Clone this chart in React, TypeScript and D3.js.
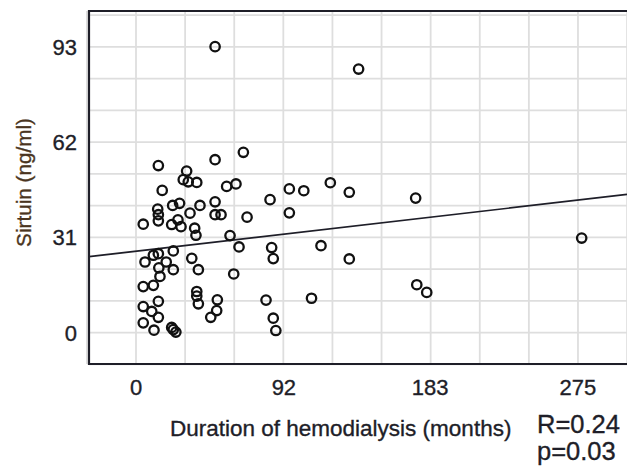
import * as d3 from "d3";

// months on hemodialysis vs sirtuin (ng/ml)
const durationMonths = [
  49.2, 138.5, 13.9, 49.2, 66.8, 31.5, 29.4, 32.5, 37.8, 16.3,
  56.4, 62.2, 13.5, 13.9, 22.8, 27.1, 39.8, 33.6, 49.2, 49.2,
  52.9, 69.1, 4.5, 13.9, 22.2, 26.1, 28.0, 36.5, 37.3, 58.5,
  83.4, 95.4, 104.4, 120.9, 132.7, 95.4, 174.0, 5.6, 10.8, 13.9,
  23.2, 18.8, 14.2, 23.2, 34.7, 38.8, 64.1, 60.8, 14.9, 10.8,
  4.5, 37.8, 37.8, 38.8, 50.6, 50.2, 46.5, 4.5, 13.9, 9.8,
  13.9, 4.5, 11.2, 22.2, 23.2, 24.8, 84.4, 85.4, 115.1, 132.7,
  80.9, 109.2, 85.4, 87.0, 174.7, 180.9, 277.3,
];
const sirtuin = [
  93.1, 85.8, 54.4, 56.3, 58.7, 52.6, 49.8, 49.1, 48.9, 46.3,
  47.6, 48.4, 40.2, 38.4, 41.4, 42.1, 41.4, 38.9, 42.6, 38.4,
  38.4, 37.6, 35.3, 36.4, 35.2, 36.7, 34.5, 34.0, 31.7, 31.6,
  43.3, 46.8, 46.2, 48.8, 45.7, 39.0, 43.8, 23.0, 25.2, 25.7,
  26.6, 23.0, 21.1, 20.5, 24.2, 20.5, 27.9, 19.1, 18.3, 15.4,
  15.0, 13.4, 11.9, 9.4, 10.7, 7.2, 5.0, 8.5, 10.2, 6.9,
  5.0, 3.2, 0.8, 1.7, 1.0, 0.2, 27.7, 24.1, 28.3, 24.0,
  10.6, 11.2, 4.7, 0.7, 15.6, 13.1, 30.8,
];
const xTicks = [0, 92, 183, 275];
const yTicks = [0, 31, 62, 93];
const fit = { intercept: 26.5, slope: 0.0605 };
const stats = ["R=0.24", "p=0.03"];

const W = 627;
const H = 472;
const left = 89, right = 627, top = 11, bottom = 364;
const ink = "#1e1e28";
const font = "'Liberation Sans', Arial, sans-serif";

export default function App() {
  const x = d3.scaleLinear().domain([-29.25, 305.5]).range([left, right]);
  const y = d3.scaleLinear().domain([-10.2, 104.7]).range([bottom, top]);

  // grid every third of a tick step
  const xGrid = d3.range(-1, 11).map((i) => (i * 275) / 9);
  const yGrid = d3.range(-1, 11).map((i) => (i * 31) / 3);

  const [x0, x1] = x.domain();
  const fitLine = d3.line()([
    [x(x0), y(fit.intercept + fit.slope * x0)],
    [x(x1), y(fit.intercept + fit.slope * x1)],
  ]);

  return (
    <svg width={W} height={H} style={{ position: "absolute", left: 0, top: 0, background: "#fff" }}>
      <g stroke="#dedede" strokeWidth={1.8}>
        {xGrid.map((v, i) => (
          <line key={"gx" + i} x1={x(v)} x2={x(v)} y1={top} y2={bottom} />
        ))}
        {yGrid.map((v, i) => (
          <line key={"gy" + i} x1={left} x2={right} y1={y(v)} y2={y(v)} />
        ))}
      </g>

      <path d={fitLine ?? ""} stroke={ink} strokeWidth={1.7} fill="none" />

      <g fill="none" stroke="#111" strokeWidth={2.3}>
        {durationMonths.map((d, i) => (
          <circle key={i} cx={x(d)} cy={y(sirtuin[i])} r={4.7} />
        ))}
      </g>

      <path
        d={`M${right},${top}H${left}V${bottom}H${right}`}
        stroke={ink}
        strokeWidth={2.2}
        fill="none"
      />

      <g fontFamily={font} fill={ink} stroke={ink} strokeWidth={0.35} fontSize={22}>
        {yTicks.map((t) => (
          <text key={"yt" + t} x={77} y={y(t)} dy="0.36em" textAnchor="end">
            {t}
          </text>
        ))}
        {xTicks.map((t) => (
          <text key={"xt" + t} x={x(t)} y={395} textAnchor="middle">
            {t}
          </text>
        ))}
        <text x={170} y={436} fontSize={22.5}>
          Duration of hemodialysis (months)
        </text>
        <text
          transform="translate(31,182.5) rotate(-90)"
          textAnchor="middle"
          fontSize={20.7}
          fill="#4a3420"
          stroke="#4a3420"
        >
          Sirtuin (ng/ml)
        </text>
        {stats.map((s, i) => (
          <text key={s} x={537} y={433 + i * 27} fontSize={25.5}>
            {s}
          </text>
        ))}
      </g>
    </svg>
  );
}
